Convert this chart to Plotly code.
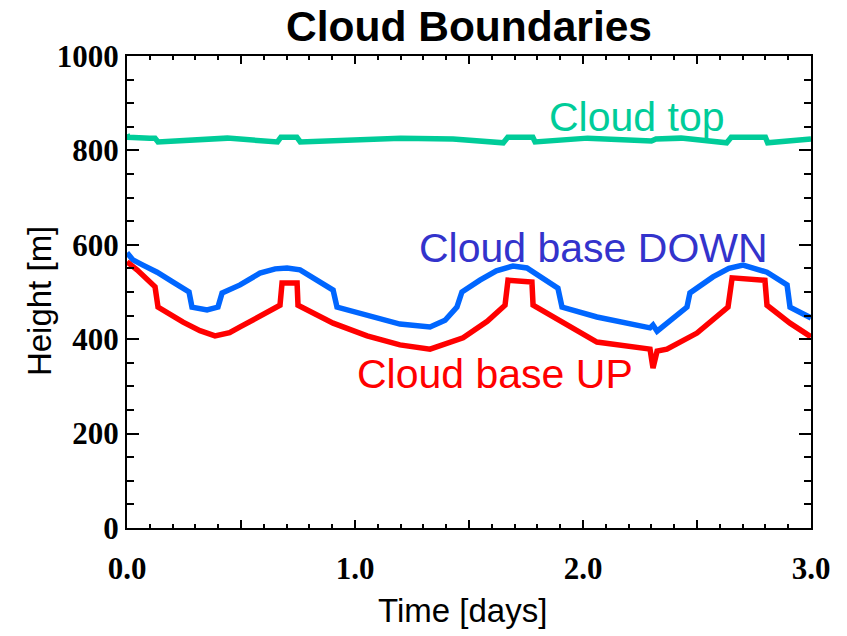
import plotly.graph_objects as go

# ---- data (days, metres) ----
top_t = [0.0, 0.005, 0.10, 0.123, 0.136, 0.44, 0.66, 0.675, 0.745, 0.76, 1.2, 1.43, 1.65, 1.67,
         1.78, 1.79, 2.02, 2.29, 2.30, 2.32, 2.43, 2.63, 2.65, 2.80, 2.81, 3.0]
top_h = [834, 828, 826, 826, 818, 826, 818, 828, 828, 818, 826, 824, 816, 828,
         828, 818, 826, 822, 820, 824, 826, 816, 828, 828, 816, 824]

down_t = [0.0, 0.026, 0.070, 0.132, 0.202, 0.272, 0.285, 0.351, 0.399, 0.417, 0.496, 0.583,
          0.65, 0.702, 0.759, 0.833, 0.904, 0.921, 1.053, 1.197, 1.329, 1.395, 1.447, 1.469,
          1.548, 1.62, 1.693, 1.754, 1.890, 1.908, 2.061, 2.294, 2.307, 2.325, 2.456, 2.469,
          2.570, 2.64, 2.702, 2.807, 2.895, 2.908, 3.0]
down_h = [583, 568, 557, 542, 521, 500, 468, 462, 468, 498, 515, 540,
          549, 551, 547, 525, 504, 468, 451, 432, 426, 440, 468, 500,
          525, 545, 555, 551, 508, 468, 447, 424, 430, 417, 468, 498,
          532, 550, 557, 542, 515, 468, 445]

up_t = [0.0, 0.044, 0.123, 0.136, 0.246, 0.32, 0.386, 0.45, 0.496, 0.60, 0.671, 0.680, 0.746,
        0.750, 0.904, 1.053, 1.197, 1.329, 1.474, 1.58, 1.658, 1.671, 1.776, 1.781, 1.912,
        2.061, 2.294, 2.307, 2.325, 2.368, 2.500, 2.636, 2.654, 2.798, 2.807, 2.908, 3.0]
up_h = [564, 547, 511, 468, 436, 418, 407, 414, 426, 452, 472, 519, 519,
        472, 434, 407, 388, 379, 403, 438, 472, 525, 521, 472, 434,
        394, 379, 339, 375, 379, 413, 468, 530, 525, 472, 434, 405]

x_tickvals = [0, 0.5, 1, 1.5, 2, 2.5, 3]
x_ticktext = ["0.0", "", "1.0", "", "2.0", "", "3.0"]
y_tickvals = [0, 200, 400, 600, 800, 1000]
y_ticktext = ["0", "200", "400", "600", "800", "1000"]

GREEN = "#00CC99"
BLUE = "#0066FF"
RED = "#FF0000"

fig = go.Figure()
fig.add_trace(go.Scatter(x=top_t, y=top_h, mode="lines", line=dict(color=GREEN, width=5.5), name="Cloud top"))
fig.add_trace(go.Scatter(x=down_t, y=down_h, mode="lines", line=dict(color=BLUE, width=5.5), name="Cloud base DOWN"))
fig.add_trace(go.Scatter(x=up_t, y=up_h, mode="lines", line=dict(color=RED, width=5.5), name="Cloud base UP"))

tickfont = dict(family="Liberation Serif", size=31, color="black", weight="bold")

fig.update_layout(
    width=847, height=636,
    margin=dict(l=127, r=36, t=56, b=108),
    paper_bgcolor="white", plot_bgcolor="white",
    showlegend=False,
    xaxis=dict(range=[0, 3], tickvals=x_tickvals, ticktext=x_ticktext, ticks="inside",
               ticklen=8, tickwidth=2, tickcolor="black", showline=True, linecolor="black",
               linewidth=2, mirror="ticks", showgrid=False, zeroline=False, tickfont=tickfont,
               ticklabelstandoff=12,
               minor=dict(dtick=0.1, ticks="inside", ticklen=4, tickwidth=2, tickcolor="black", showgrid=False)),
    yaxis=dict(range=[0, 1000], tickvals=y_tickvals, ticktext=y_ticktext, ticks="inside",
               ticklen=12, tickwidth=2, tickcolor="black", showline=True, linecolor="black",
               linewidth=2, mirror="ticks", showgrid=False, zeroline=False, tickfont=tickfont,
               minor=dict(dtick=50, ticks="inside", ticklen=7, tickwidth=2, tickcolor="black", showgrid=False)),
)

sans = "Liberation Sans"
fig.add_annotation(text="<b>Cloud Boundaries</b>", xref="paper", yref="paper", x=0.5, y=1.0625,
                   xanchor="center", yanchor="middle", showarrow=False,
                   font=dict(family=sans, size=42.5, color="black"))
fig.add_annotation(text="Time [days]", xref="paper", yref="paper", x=0.49, y=-0.174,
                   xanchor="center", yanchor="middle", showarrow=False,
                   font=dict(family=sans, size=33, color="black"))
fig.add_annotation(text="Height [m]", xref="paper", yref="paper", x=-0.127, y=0.481,
                   xanchor="center", yanchor="middle", showarrow=False, textangle=-90,
                   font=dict(family=sans, size=33, color="black"))
fig.add_annotation(text="Cloud top", x=2.237, y=870, xanchor="center", yanchor="middle",
                   showarrow=False, font=dict(family=sans, size=41, color=GREEN))
fig.add_annotation(text="Cloud base DOWN", x=2.044, y=594, xanchor="center", yanchor="middle",
                   showarrow=False, font=dict(family=sans, size=41, color="#3333CC"))
fig.add_annotation(text="Cloud base UP", x=1.614, y=327, xanchor="center", yanchor="middle",
                   showarrow=False, font=dict(family=sans, size=41, color=RED))

fig.write_html("out.html")
